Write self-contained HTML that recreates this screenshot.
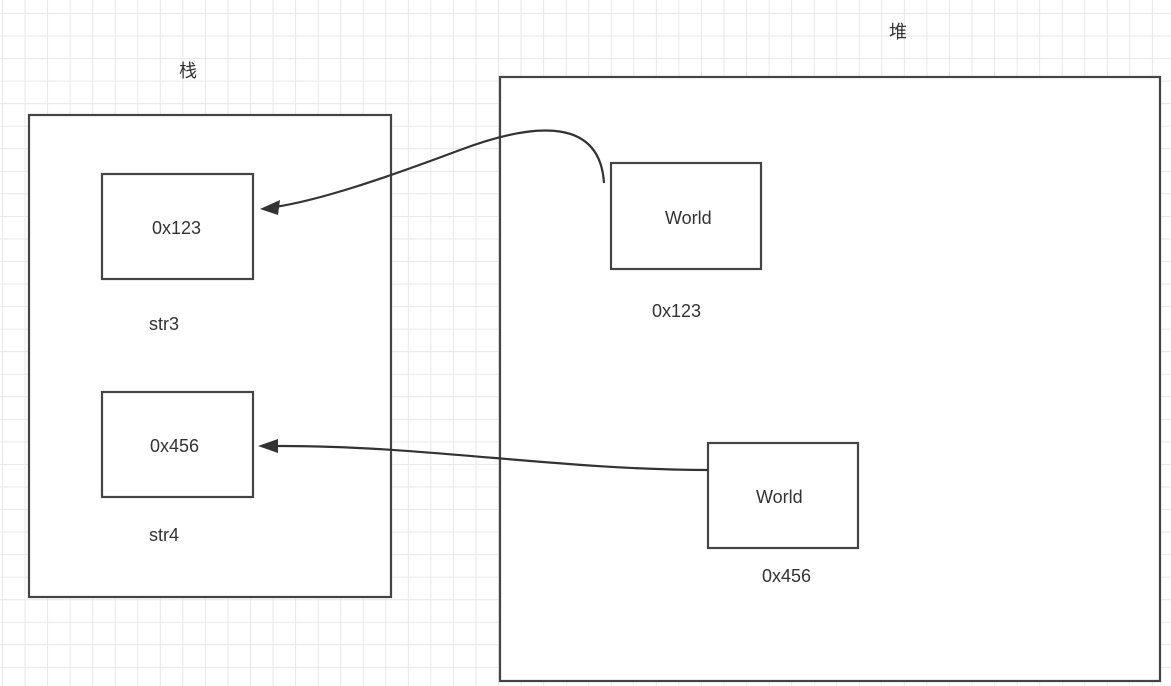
<!DOCTYPE html>
<html><head><meta charset="utf-8"><style>
body{margin:0;width:1171px;height:686px;overflow:hidden;background:#fff;
background-image:linear-gradient(#e8e8e8 1px,transparent 1px),linear-gradient(90deg,#e8e8e8 1px,transparent 1px);
background-size:22.55px 22.55px;background-position:2px 13px;}
svg{position:absolute;left:0;top:0}
text{font-family:"Liberation Sans","Noto Sans CJK SC",sans-serif;font-size:18px;fill:#333}
</style></head><body>
<svg width="1171" height="686">
<g fill="#fff" stroke="#444" stroke-width="2.2">
<rect x="29" y="115" width="362" height="482"/>
<rect x="500" y="77" width="660" height="604"/>
<rect x="102" y="174" width="151" height="105"/>
<rect x="102" y="392" width="151" height="105"/>
<rect x="611" y="163" width="150" height="106"/>
<rect x="708" y="443" width="150" height="105"/>
</g>
<g fill="none" stroke="#333" stroke-width="2.2">
<path d="M604,183 C600,120 540,120 460,150 C380,180 320,200 275,207"/>
<path d="M708,470 C560,470 420,445 275,446"/>
</g>
<polygon points="260,209 280,200 278,215" fill="#333"/>
<polygon points="258,446 278,439 278,453" fill="#333"/>
<text x="179" y="77">栈</text>
<text x="889" y="38">堆</text>
<text x="152" y="234">0x123</text>
<text x="150" y="452">0x456</text>
<text x="149" y="330">str3</text>
<text x="149" y="541">str4</text>
<text x="665" y="224">World</text>
<text x="756" y="503">World</text>
<text x="652" y="317">0x123</text>
<text x="762" y="582">0x456</text>
</svg>
</body></html>
